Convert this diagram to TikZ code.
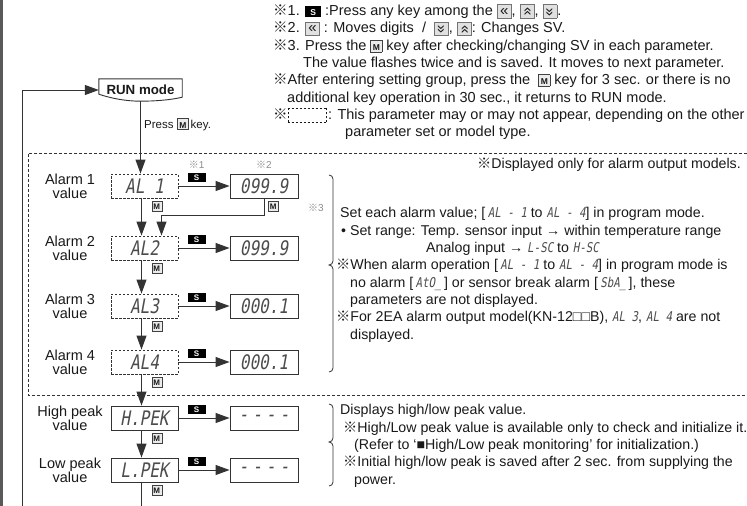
\documentclass[tikz,border=0pt]{standalone}
\usepackage{fontspec}
\setmainfont{Liberation Sans}
\newfontfamily\cjkfont{Noto Sans CJK JP}
\newfontfamily\segfont[FakeSlant=0.18,FakeStretch=0.8]{DejaVu Sans Mono}
\usepackage{tikz}
\usetikzlibrary{arrows.meta, positioning, calc}
\definecolor{linegray}{HTML}{333333}
\definecolor{markgray}{HTML}{8C8C8C}
\tikzstyle{arrow} = [-{Triangle[length=14pt, width=10pt]}, line width=1pt, color=linegray]

\newcommand{\rmk}{{\cjkfont ※}}
\newcommand{\seg}[1]{{\segfont\fontsize{13.5}{17}\selectfont\color{black!70}#1}}
\newcommand{\keyS}{{\setlength{\fboxsep}{0pt}\colorbox{black}{\makebox[16pt]{\rule[-1.5pt]{0pt}{11pt}\color{white}\bfseries\fontsize{8.5}{8.5}\selectfont S}}}}
\newcommand{\keyM}{{\setlength{\fboxsep}{0.8pt}\setlength{\fboxrule}{0.7pt}\fcolorbox{black!75}{black!8}{\makebox[9pt]{\rule[-0.5pt]{0pt}{9.5pt}\bfseries\fontsize{8.5}{8.5}\selectfont M}}}}
\newcommand{\keyChev}[1]{{\setlength{\fboxsep}{0.8pt}\setlength{\fboxrule}{0.6pt}\fcolorbox{black!55}{black!12}{\makebox[12pt][c]{\rule[-1.5pt]{0pt}{11.5pt}\fontsize{15}{15}\selectfont\rotatebox[origin=c]{#1}{«}}}}}
\newcommand{\keyL}{\keyChev{0}}
\newcommand{\keyU}{\keyChev{-90}}
\newcommand{\keyD}{\keyChev{90}}

\begin{document}
\begin{tikzpicture}[x=1pt, y=-1pt,
    every node/.style={inner sep=0pt, text=black!90},
    lbl/.style={align=center, font=\fontsize{14.5}{14}\selectfont},
    parambox/.style={draw=linegray, line width=0.9pt, dash pattern=on 2.5pt off 1.5pt,
      minimum width=67pt, minimum height=24pt, font=\segfont\fontsize{20}{20}\selectfont, text=black!70},
    peakbox/.style={parambox, solid},
    valbox/.style={draw=linegray, line width=0.9pt, minimum width=68pt, minimum height=24pt,
      font=\segfont\fontsize{20}{20}\selectfont, text=black!70},
    sbtn/.style={fill=black, text=white, minimum width=18pt, minimum height=9pt, font=\bfseries\fontsize{8}{8}\selectfont},
    mbtn/.style={draw=black!75, fill=black!8, line width=0.6pt, minimum width=10pt, minimum height=10pt,
      font=\bfseries\fontsize{8}{8}\selectfont},
    smallmark/.style={font=\fontsize{10}{10}\selectfont, text=markgray},
    notetext/.style={align=left, font=\fontsize{14.5}{17.3}\selectfont},
    infotext/.style={align=left, font=\fontsize{14.2}{17.3}\selectfont}
  ]
    \useasboundingbox (0,0) rectangle (747,506);
    \fill[black!65] (0,0) rectangle (3,506);

    % notes at the top
    \node[notetext, anchor=north west] (notes) at (273,4) {%
      \rmk1. \keyS\ :Press any key among the \keyL, \keyU, \keyD.\\
      \rmk2. \keyL\ : Moves digits \ / \ \keyD, \keyU: Changes SV.\\
      \rmk3. Press the \keyM\ key after checking/changing SV in each parameter.\\
      \hspace*{30pt}The value flashes twice and is saved. It moves to next parameter.\\
      \rmk After entering setting group, press the \ \keyM\ key for 3 sec. or there is no\\
      \hspace*{14pt}additional key operation in 30 sec., it returns to RUN mode.\\
      \rmk\raisebox{-3pt}{\dashbox{2}(38,14){}}\,: This parameter may or may not appear, depending on the other\\
      \hspace*{72pt}parameter set or model type.};

    % RUN mode
    \node[font=\bfseries\fontsize{13.3}{14}\selectfont, minimum width=83pt, minimum height=22pt] (run) at (140.5,90) {RUN mode};
    \draw[line width=0.9pt, color=linegray] (run.north west) -- (run.north east) -- ([yshift=4pt]run.south east)
      .. controls +(-12pt,-3pt) and +(12pt,0pt) .. (run.south)
      .. controls +(-15pt,0pt) and +(12pt,-4pt) .. ([yshift=7pt]run.south west) -- cycle;
    \coordinate (retbot) at (22,506);
    \draw[arrow] (retbot) |- (run.west);
    \node[font=\fontsize{11.5}{12}\selectfont, anchor=west] (press) at (144,124) {Press \keyM\,key.};

    \draw[color=linegray, line width=0.9pt, dash pattern=on 3pt off 2pt] (747,153) -- (28,153) -- (28,395) -- (747,395);
    \node[infotext, anchor=base east] (dispnote) at (741,168) {\rmk Displayed only for alarm output models.};

    \node[parambox] (al1) at (144.5,186) {AL 1};
    \node[parambox] (al2) at (144.5,248) {AL2};
    \node[parambox] (al3) at (144.5,306) {AL3};
    \node[parambox] (al4) at (144.5,362) {AL4};
    \node[peakbox] (hpk) at (144.5,418) {H.PEK};
    \node[peakbox] (lpk) at (144.5,470) {L.PEK};

    \node[valbox] (v1) at (264,186) {099.9};
    \node[valbox] (v2) at (264,248) {099.9};
    \node[valbox] (v3) at (264,306) {000.1};
    \node[valbox] (v4) at (264,362) {000.1};
    \node[valbox] (v5) at (264,418) {-\hspace{4pt}-\hspace{4pt}-\hspace{4pt}-};
    \node[valbox] (v6) at (264,470) {-\hspace{4pt}-\hspace{4pt}-\hspace{4pt}-};

    \node[lbl] (l1) at (70,186) {Alarm 1\\value};
    \node[lbl] (l2) at (70,248) {Alarm 2\\value};
    \node[lbl] (l3) at (70,306) {Alarm 3\\value};
    \node[lbl] (l4) at (70,362) {Alarm 4\\value};
    \node[lbl] (l5) at (70,418) {High peak\\value};
    \node[lbl] (l6) at (70,470) {Low peak\\value};

    \draw[arrow] (run.south) -- (run.south |- al1.north);
    \draw[arrow] (al1) -- (v1);
    \draw[arrow] (al2) -- (v2);
    \draw[arrow] (al3) -- (v3);
    \draw[arrow] (al4) -- (v4);
    \draw[arrow] (hpk) -- (v5);
    \draw[arrow] (lpk) -- (v6);
    \node[sbtn, above right=4pt and 9pt of al1.east] (s1) {S};
    \node[sbtn, above right=4pt and 9pt of al2.east] (s2) {S};
    \node[sbtn, above right=4pt and 9pt of al3.east] (s3) {S};
    \node[sbtn, above right=4pt and 9pt of al4.east] (s4) {S};
    \node[sbtn, above right=4pt and 9pt of hpk.east] (s5) {S};
    \node[sbtn, above right=4pt and 9pt of lpk.east] (s6) {S};

    \draw[arrow] ([xshift=-3pt]al1.south) -- ([xshift=-3pt]al2.north);
    \draw[arrow] ([xshift=-3pt]al2.south) -- ([xshift=-3pt]al3.north);
    \draw[arrow] ([xshift=-3pt]al3.south) -- ([xshift=-3pt]al4.north);
    \draw[arrow] ([xshift=-3pt]al4.south) -- ([xshift=-3pt]hpk.north);
    \draw[arrow] ([xshift=-3pt]hpk.south) -- ([xshift=-3pt]lpk.north);
    \coordinate (lpkbot) at (141.5,506);
    \draw[color=linegray, line width=1pt] ([xshift=-3pt]lpk.south) -- (lpkbot);
    \node[mbtn, anchor=north west] (m1) at ([xshift=7pt,yshift=-3pt]al1.south) {M};
    \node[mbtn, anchor=north west] (m2) at ([xshift=7pt,yshift=-3pt]al2.south) {M};
    \node[mbtn, anchor=north west] (m3) at ([xshift=7pt,yshift=-3pt]al3.south) {M};
    \node[mbtn, anchor=north west] (m4) at ([xshift=7pt,yshift=-3pt]al4.south) {M};
    \node[mbtn, anchor=north west] (m5) at ([xshift=7pt,yshift=-3pt]hpk.south) {M};
    \node[mbtn, anchor=north west] (m6) at ([xshift=7pt,yshift=-3pt]lpk.south) {M};

    \draw[arrow] (v1.south) -- ++(0,17) -| ([xshift=17pt]al2.north);
    \node[mbtn, anchor=north west] (mv1) at ([xshift=4pt,yshift=-3pt]v1.south) {M};
    \node[smallmark, above=4pt of s1] (mk1) {\rmk1};
    \node[smallmark, above=5pt of v1] (mk2) {\rmk2};
    \node[smallmark] (mk3) at (316,208) {\rmk3};

    % notes on the right
    \draw[color=linegray, line width=0.8pt] (329,175) to[out=0,in=90] (333,179) -- (333,261) to[out=-90,in=0] (329,265)
      to[out=0,in=90] (333,269) -- (333,368) to[out=-90,in=0] (329,372);
    \node[infotext, anchor=north west] (alinfo) at (336,207.5) {%
      \hspace*{4pt}Set each alarm value; [\,\seg{AL - 1} to \seg{AL - 4}] in program mode.\\
      \hspace*{5pt}• Set range: Temp. sensor input → within temperature range\\
      \hspace*{90pt}Analog input → \seg{L-SC} to \seg{H-SC}\\
      \rmk When alarm operation [\,\seg{AL - 1} to \seg{AL - 4}] in program mode is\\
      \hspace*{14pt}no alarm [\,\seg{AtO\_}\,] or sensor break alarm [\,\seg{SbA\_}\,], these\\
      \hspace*{14pt}parameters are not displayed.\\
      \rmk For 2EA alarm output model(KN-12□□B), \seg{AL 3}, \seg{AL 4} are not\\
      \hspace*{14pt}displayed.};

    \draw[color=linegray, line width=0.8pt] (329,404) to[out=0,in=90] (333,408) -- (333,438) to[out=-90,in=0] (329,442)
      to[out=0,in=90] (333,446) -- (333,482) to[out=-90,in=0] (329,486);
    \node[infotext, anchor=north west] (pkinfo) at (340,404.5) {%
      Displays high/low peak value.\\
      \hspace*{3pt}\rmk High/Low peak value is available only to check and initialize it.\\
      \hspace*{14pt}(Refer to ‘■High/Low peak monitoring’ for initialization.)\\
      \hspace*{3pt}\rmk Initial high/low peak is saved after 2 sec. from supplying the\\
      \hspace*{14pt}power.};
\end{tikzpicture}
\end{document}
